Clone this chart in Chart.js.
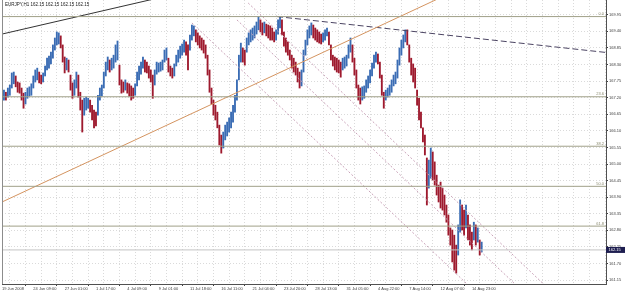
<!DOCTYPE html>
<html>
<head>
<meta charset="utf-8">
<style>
  html, body { margin: 0; padding: 0; background: #fff; overflow: hidden; }
</style>
<script src="https://cdn.jsdelivr.net/npm/chart.js@4.4.1/dist/chart.umd.min.js"></script>
</head>
<body>
<canvas id="chart" width="625" height="292"></canvas>
<script>
// EURJPY H1, one column = 4 hourly bars (high / low of the group)
const headerText = 'EURJPY,H1 162.15 162.15 162.15 162.15';
const lastPrice = 162.15;
const barsPerColumn = 4;

const highs = [
  167.38, 167.45, 167.38, 167.52, 167.62, 168.02, 168.05, 167.92, 167.72, 167.69,
  167.52, 167.35, 167.38, 167.52, 167.56, 167.66, 167.92, 168.12, 168.18, 168.05,
  167.95, 168.02, 168.25, 168.51, 168.58, 168.71, 168.95, 169.18, 169.38, 169.35,
  169.25, 168.95, 168.55, 168.51, 168.45, 167.95, 167.69, 167.79, 168.05, 167.95,
  167.38, 167.12, 167.18, 167.22, 167.18, 167.12, 166.95, 166.79, 166.72, 167.28,
  167.52, 167.62, 168.05, 168.38, 168.55, 168.45, 168.51, 168.61, 168.95, 169.08,
  168.28, 167.79, 167.72, 167.79, 167.69, 167.66, 167.59, 167.52, 167.66, 168.05,
  168.25, 168.38, 168.55, 168.45, 168.38, 168.25, 168.12, 167.95, 168.12, 168.38,
  168.35, 168.38, 168.45, 168.78, 168.85, 168.51, 168.25, 168.18, 168.32, 168.61,
  168.78, 168.91, 168.98, 169.11, 169.05, 168.95, 169.28, 169.61, 169.58, 169.45,
  169.35, 169.25, 169.18, 169.11, 168.95, 168.61, 168.12, 167.52, 167.12, 166.95,
  166.72, 166.29, 165.96, 166.06, 166.29, 166.39, 166.53, 166.72, 166.95, 167.28,
  167.79, 168.61, 169.01, 168.85, 168.78, 169.18, 169.35, 169.45, 169.51, 169.58,
  169.71, 169.88, 169.78, 169.68, 169.71, 169.64, 169.61, 169.58, 169.51, 169.38,
  169.45, 169.78, 169.88, 169.78, 169.38, 169.18, 169.05, 168.78, 168.61, 168.51,
  168.38, 168.18, 168.05, 168.12, 168.78, 169.11, 169.45, 169.58, 169.68, 169.61,
  169.51, 169.45, 169.38, 169.31, 169.35, 169.45, 169.51, 169.38, 168.95, 168.61,
  168.55, 168.51, 168.45, 168.38, 168.51, 168.55, 168.61, 168.95, 169.18, 168.95,
  168.51, 168.12, 167.62, 167.52, 167.56, 167.59, 167.79, 167.92, 168.12, 168.35,
  168.61, 168.71, 168.65, 168.38, 167.95, 167.38, 167.45, 167.52, 167.62, 167.79,
  167.95, 168.05, 168.45, 168.85, 169.11, 169.28, 169.45, 169.45, 168.95, 168.51,
  168.32, 168.18, 167.45, 167.18, 166.72, 166.20, 165.96, 165.20, 165.13, 165.53,
  165.40, 165.07, 164.63, 164.30, 164.40, 164.20, 163.97, 163.64, 163.31, 162.88,
  162.81, 162.64, 162.31, 162.98, 163.81, 163.64, 163.47, 163.64, 163.31, 162.98,
  162.74, 163.07, 162.98, 162.88, 162.48, 162.41
];
const lows = [
  167.02, 167.12, 167.12, 167.22, 167.28, 167.52, 167.66, 167.56, 167.38, 167.35,
  167.12, 166.85, 166.99, 167.18, 167.25, 167.28, 167.52, 167.72, 167.79, 167.69,
  167.66, 167.72, 167.92, 168.12, 168.18, 168.32, 168.51, 168.78, 168.95, 168.98,
  168.85, 168.38, 168.02, 168.12, 168.05, 167.45, 167.18, 167.28, 167.52, 167.22,
  166.79, 166.06, 166.62, 166.79, 166.85, 166.72, 166.46, 166.20, 166.26, 166.62,
  167.12, 167.25, 167.52, 167.92, 168.12, 168.05, 168.12, 168.18, 168.38, 168.45,
  167.62, 167.35, 167.38, 167.45, 167.35, 167.25, 167.12, 167.18, 167.28, 167.59,
  167.79, 167.98, 168.18, 168.05, 168.02, 167.85, 167.72, 167.18, 167.62, 167.98,
  168.05, 168.08, 168.12, 168.38, 168.45, 168.05, 167.92, 167.85, 167.92, 168.25,
  168.38, 168.51, 168.61, 168.71, 168.61, 168.12, 168.78, 169.11, 169.25, 169.05,
  168.95, 168.85, 168.78, 168.68, 168.51, 167.95, 167.38, 166.99, 166.62, 166.46,
  166.20, 165.63, 165.36, 165.53, 165.80, 165.93, 166.06, 166.20, 166.39, 166.72,
  167.12, 167.79, 168.38, 168.38, 168.28, 168.71, 168.95, 169.05, 169.11, 169.18,
  169.31, 169.45, 169.38, 169.28, 169.35, 169.25, 169.18, 169.11, 169.11, 169.05,
  169.11, 169.31, 169.51, 169.28, 168.91, 168.71, 168.61, 168.45, 168.18, 168.05,
  167.95, 167.72, 167.52, 167.59, 168.05, 168.61, 168.95, 169.18, 169.28, 169.18,
  169.11, 169.05, 169.01, 168.98, 169.05, 169.11, 169.25, 168.95, 168.45, 168.25,
  168.12, 168.05, 168.02, 167.88, 168.12, 168.18, 168.25, 168.51, 168.71, 168.38,
  167.95, 167.52, 167.12, 166.99, 167.12, 167.18, 167.38, 167.52, 167.69, 167.92,
  168.18, 168.38, 168.32, 167.85, 167.28, 166.85, 167.12, 167.22, 167.28, 167.38,
  167.59, 167.66, 167.85, 168.28, 168.61, 168.85, 169.05, 168.95, 168.38, 167.95,
  167.72, 167.52, 166.95, 166.46, 166.20, 165.73, 165.30, 163.64, 164.20, 164.53,
  164.47, 164.30, 163.97, 163.74, 163.54, 163.47, 163.31, 163.07, 162.64, 162.31,
  161.75, 161.48, 161.38, 161.98, 162.74, 162.81, 162.64, 162.88, 162.48, 162.31,
  162.15, 162.48, 162.31, 162.41, 161.98, 162.08
];

const priceTicks = [161.15, 161.70, 162.25, 162.80, 163.35, 163.90, 164.45, 165.00, 165.55,
  166.10, 166.65, 167.20, 167.75, 168.30, 168.85, 169.40, 169.95];
const timeLabels = ['19 Jun 2008', '24 Jun 09:00', '27 Jun 01:00', '1 Jul 17:00', '4 Jul 09:00',
  '9 Jul 01:00', '11 Jul 18:00', '16 Jul 11:00', '21 Jul 04:00', '23 Jul 20:00', '28 Jul 13:00',
  '31 Jul 05:00', '4 Aug 22:00', '7 Aug 14:00', '12 Aug 07:00', '14 Aug 23:00'];
const barsPerLabel = 64;
const barsPerGrid = 32;

const fibNames = ['0.0', '23.6', '38.2', '50.0', '61.8'];
const fibPrices = [169.89, 167.23, 165.59, 164.26, 162.94];

// chart objects as [bar index, price] end points
const trendBlack = [[0, 169.31], [400, 170.81]];
const trendOrange = [[0, 163.74], [900, 170.55]];
const trendDashed = [[562, 169.89], [1234, 168.70]];
const channelLines = [
  [[503, 170.34], [1140, 160.50]],
  [[480, 169.78], [1061, 160.82]],
  [[388, 169.68], [963, 160.82]]
];

const xMax = 1234;
const yMin = 161.02, yMax = 170.44;
const upColor = '#3a6cb4';
const downColor = '#9e1a2e';
const fontFamily = '"Liberation Sans", Arial, sans-serif';

const columns = highs.map((h, i) => ({ x: i * barsPerColumn, y: [lows[i], h] }));
const columnColors = highs.map((h, i) => {
  if (i === 0) return upColor;
  const mid = (h + lows[i]) / 2, prev = (highs[i - 1] + lows[i - 1]) / 2;
  return mid >= prev ? upColor : downColor;
});
const seg = pts => pts.map(p => ({ x: p[0], y: p[1] }));
const hline = v => [{ x: 0, y: v }, { x: xMax, y: v }];
const lineDefaults = { type: 'line', borderWidth: 1, pointRadius: 0, fill: false, order: 1 };

const gridBars = [];
for (let b = 0; b <= xMax; b += barsPerGrid) gridBars.push(b);
const isLabelTick = v => v % barsPerLabel === 0 && v / barsPerLabel < timeLabels.length;

const overlay = {
  id: 'overlay',
  afterDatasetsDraw(chart) {
    const { ctx, chartArea: a, scales: { y } } = chart;
    ctx.save();
    ctx.font = '4px ' + fontFamily;
    ctx.fillStyle = '#8a8a6e';
    ctx.textAlign = 'right';
    ctx.textBaseline = 'bottom';
    fibPrices.forEach((v, i) => ctx.fillText(fibNames[i], a.right - 2, y.getPixelForValue(v) - 0.5));
    ctx.restore();
  },
  afterDraw(chart) {
    const { ctx, chartArea: a, scales: { y } } = chart;
    ctx.save();
    ctx.strokeStyle = '#8c8c8c';
    ctx.lineWidth = 1;
    ctx.beginPath();
    ctx.moveTo(a.left + 0.5, a.top);
    ctx.lineTo(a.left + 0.5, a.bottom);
    ctx.stroke();

    ctx.font = '4.5px ' + fontFamily;
    ctx.fillStyle = '#202020';
    ctx.textBaseline = 'middle';
    ctx.fillText(headerText, 5, 5);

    const py = y.getPixelForValue(lastPrice);
    ctx.fillStyle = '#1e1e50';
    ctx.fillRect(a.right, py - 3, 19, 6);
    ctx.fillStyle = '#ffffff';
    ctx.font = '4px ' + fontFamily;
    ctx.fillText(lastPrice.toFixed(2), a.right + 2.5, py);
    ctx.restore();
  }
};

new Chart(document.getElementById('chart'), {
  type: 'bar',
  data: {
    datasets: [
      ...fibPrices.map(v => ({ ...lineDefaults, data: hline(v), borderColor: '#a0a088' })),
      { ...lineDefaults, data: hline(lastPrice), borderColor: '#c4c4c4' },
      { ...lineDefaults, data: seg(trendOrange), borderColor: '#d49460' },
      { ...lineDefaults, data: seg(trendBlack), borderColor: '#333333' },
      { ...lineDefaults, data: seg(trendDashed), borderColor: '#4b4462', borderDash: [6, 3] },
      ...channelLines.map(l => ({ ...lineDefaults, data: seg(l), borderColor: '#c9a2b8', borderDash: [2, 2] })),
      {
        type: 'bar',
        data: columns,
        backgroundColor: columnColors,
        barThickness: 1.2,
        borderSkipped: false,
        order: 5
      }
    ]
  },
  options: {
    responsive: false,
    animation: false,
    devicePixelRatio: 1,
    layout: { padding: { left: 2, top: 0, right: 0, bottom: 0 } },
    plugins: { legend: { display: false }, tooltip: { enabled: false } },
    scales: {
      x: {
        type: 'linear',
        min: 0,
        max: xMax,
        offset: false,
        afterBuildTicks: s => { s.ticks = gridBars.map(v => ({ value: v })); },
        afterFit: s => { s.height = 8; s.paddingLeft = 0; s.paddingRight = 0; },
        ticks: {
          autoSkip: false,
          maxRotation: 0,
          align: 'start',
          padding: 0,
          color: '#404040',
          font: { family: fontFamily, size: 4 },
          callback: v => isLabelTick(v) ? timeLabels[v / barsPerLabel] : ''
        },
        grid: {
          color: '#dadada',
          tickLength: 2,
          tickColor: c => (c.tick && isLabelTick(c.tick.value)) ? '#404040' : 'rgba(0,0,0,0)'
        },
        border: { display: true, color: '#505050', dash: [1, 2] }
      },
      y: {
        position: 'right',
        min: yMin,
        max: yMax,
        afterBuildTicks: s => { s.ticks = priceTicks.map(v => ({ value: v })); },
        afterFit: s => { s.width = 19; s.paddingTop = 0; s.paddingBottom = 0; },
        ticks: {
          padding: 1,
          color: '#404040',
          font: { family: fontFamily, size: 4 },
          callback: v => v.toFixed(2)
        },
        grid: { color: '#dadada', tickLength: 2, tickColor: '#404040' },
        border: { display: true, color: '#505050', dash: [1, 2] }
      }
    }
  },
  plugins: [overlay]
});
</script>
</body>
</html>
